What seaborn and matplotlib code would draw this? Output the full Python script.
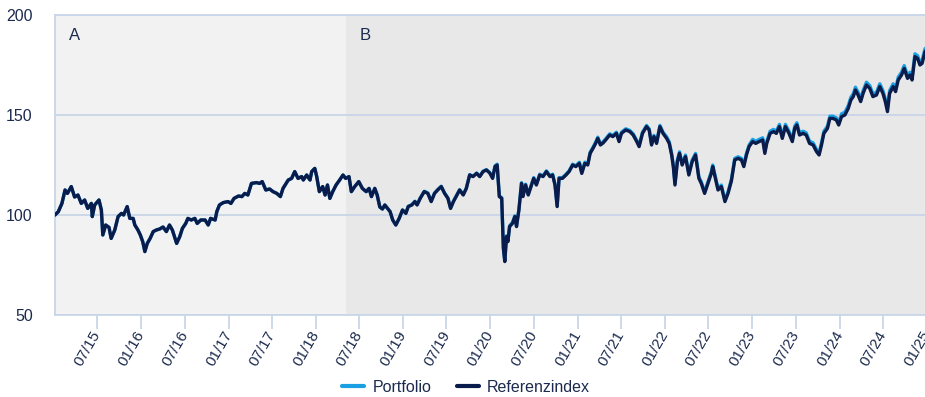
import matplotlib
matplotlib.use("Agg")
import matplotlib.pyplot as plt
import matplotlib.dates as mdates
from matplotlib.lines import Line2D
import pandas as pd
import seaborn as sns

# ---- data -----------------------------------------------------------------
dates = [
    "2015-01-05", "2015-01-19", "2015-02-03", "2015-02-16", "2015-02-26", "2015-03-14", "2015-03-28",
    "2015-04-11", "2015-04-25", "2015-05-09", "2015-05-22", "2015-06-06", "2015-06-10", "2015-06-20",
    "2015-07-08", "2015-07-18", "2015-07-24", "2015-08-05", "2015-08-19", "2015-08-28", "2015-09-12",
    "2015-09-26", "2015-10-10", "2015-10-19", "2015-11-03", "2015-11-14", "2015-11-28", "2015-12-05",
    "2015-12-18", "2015-12-28", "2016-01-07", "2016-01-16", "2016-01-26", "2016-02-07", "2016-02-20",
    "2016-03-04", "2016-03-18", "2016-04-01", "2016-04-15", "2016-04-28", "2016-05-10", "2016-05-19",
    "2016-05-28", "2016-06-10", "2016-06-21", "2016-07-05", "2016-07-14", "2016-07-28", "2016-08-12",
    "2016-08-22", "2016-09-06", "2016-09-24", "2016-10-07", "2016-10-17", "2016-11-05", "2016-11-12",
    "2016-11-23", "2016-12-09", "2016-12-29", "2017-01-10", "2017-01-23", "2017-02-11", "2017-02-25",
    "2017-03-09", "2017-03-22", "2017-04-06", "2017-04-27", "2017-05-10", "2017-05-21", "2017-06-05",
    "2017-06-21", "2017-07-05", "2017-07-21", "2017-08-05", "2017-08-16", "2017-09-07", "2017-09-21",
    "2017-10-04", "2017-10-18", "2017-11-02", "2017-11-09", "2017-11-23", "2017-12-07", "2017-12-14",
    "2017-12-27", "2018-01-04", "2018-01-15", "2018-01-29", "2018-02-08", "2018-02-18", "2018-02-28",
    "2018-03-12", "2018-03-26", "2018-04-10", "2018-04-24", "2018-05-05", "2018-05-19", "2018-05-29",
    "2018-06-12", "2018-06-29", "2018-07-14", "2018-07-30", "2018-08-11", "2018-08-21", "2018-09-04",
    "2018-09-14", "2018-09-25", "2018-10-06", "2018-10-16", "2018-11-07", "2018-11-18", "2018-12-01",
    "2018-12-15", "2018-12-29",
    "2019-01-12", "2019-01-22", "2019-02-06", "2019-02-19", "2019-02-28", "2019-03-13", "2019-03-30",
    "2019-04-14", "2019-04-28", "2019-05-12", "2019-05-25", "2019-06-09", "2019-06-23", "2019-07-07",
    "2019-07-18", "2019-07-30", "2019-08-14", "2019-08-25", "2019-09-09", "2019-09-22", "2019-10-06",
    "2019-10-20", "2019-11-04", "2019-11-17", "2019-12-01", "2019-12-15", "2019-12-29",
    "2020-01-10", "2020-01-20", "2020-01-29", "2020-02-07", "2020-02-17", "2020-02-24", "2020-03-01",
    "2020-03-08", "2020-03-14", "2020-03-21", "2020-04-02", "2020-04-12", "2020-04-19", "2020-04-29",
    "2020-05-10", "2020-05-16", "2020-05-27", "2020-06-07", "2020-06-21", "2020-06-30", "2020-07-11",
    "2020-07-25", "2020-08-08", "2020-08-22", "2020-09-06", "2020-09-17", "2020-09-27", "2020-10-06",
    "2020-10-14", "2020-10-28", "2020-11-12", "2020-11-25", "2020-12-10", "2020-12-23",
    "2021-01-07", "2021-01-17", "2021-01-30", "2021-02-11", "2021-02-21", "2021-03-05", "2021-03-16",
    "2021-03-25", "2021-04-05", "2021-04-16", "2021-04-27", "2021-05-14", "2021-05-27", "2021-06-11",
    "2021-06-22", "2021-07-02", "2021-07-20", "2021-08-06", "2021-08-20", "2021-09-04", "2021-09-14",
    "2021-09-28", "2021-10-15", "2021-10-26", "2021-11-05", "2021-11-15", "2021-11-26", "2021-12-10",
    "2021-12-23",
    "2022-01-07", "2022-01-18", "2022-01-28", "2022-02-04", "2022-02-11", "2022-02-21", "2022-03-02",
    "2022-03-13", "2022-03-27", "2022-04-10", "2022-04-24", "2022-05-08", "2022-05-22", "2022-06-01",
    "2022-06-15", "2022-06-29", "2022-07-13", "2022-07-19", "2022-08-10", "2022-08-24", "2022-09-08",
    "2022-09-21", "2022-10-05", "2022-10-19", "2022-11-02", "2022-11-16", "2022-11-26", "2022-12-07",
    "2022-12-18",
    "2023-01-02", "2023-01-15", "2023-01-29", "2023-02-13", "2023-02-22", "2023-03-02", "2023-03-16",
    "2023-03-30", "2023-04-11", "2023-04-24", "2023-05-06", "2023-05-19", "2023-06-03", "2023-06-17",
    "2023-06-27", "2023-07-06", "2023-07-17", "2023-08-01", "2023-08-14", "2023-08-28", "2023-09-12",
    "2023-09-26", "2023-10-07", "2023-10-17", "2023-10-27", "2023-11-11", "2023-11-21", "2023-12-04",
    "2023-12-18", "2023-12-28",
    "2024-01-09", "2024-01-23", "2024-02-06", "2024-02-17", "2024-02-27", "2024-03-07", "2024-03-18",
    "2024-03-29", "2024-04-08", "2024-04-22", "2024-05-06", "2024-05-19", "2024-06-03", "2024-06-17",
    "2024-06-30", "2024-07-10", "2024-07-19", "2024-07-28", "2024-08-12", "2024-08-22", "2024-09-02",
    "2024-09-16", "2024-09-27", "2024-10-11", "2024-10-21", "2024-10-30", "2024-11-11", "2024-11-22",
    "2024-12-02", "2024-12-11", "2024-12-23", "2025-01-05",
]

referenzindex = [
    100.0, 101.7, 105.8, 112.5, 110.8, 114.2, 109.0,
    110.0, 105.8, 107.5, 103.3, 105.8, 99.2, 105.0,
    107.5, 102.5, 90.0, 95.0, 93.8, 88.3, 92.5,
    99.2, 100.8, 100.0, 104.2, 98.3, 98.3, 95.0,
    92.5, 90.0, 86.7, 81.7, 85.8, 88.3, 91.7,
    92.5, 93.0, 94.0, 91.7, 95.0, 92.5, 89.2,
    85.8, 89.2, 93.3, 95.8, 98.3, 97.5, 98.3,
    95.8, 97.5, 97.5, 95.0, 98.3, 97.5, 101.7,
    105.0, 106.2, 106.7, 105.8, 108.3, 109.5, 109.2,
    110.8, 110.0, 115.8, 116.2, 115.8, 116.7, 112.5,
    113.0, 111.7, 110.8, 109.2, 113.3, 117.5, 118.3,
    121.7, 118.3, 119.2, 117.5, 120.0, 117.5, 121.7,
    123.3, 119.2, 111.7, 114.2, 110.0, 115.0, 108.3,
    111.7, 115.0, 117.5, 120.0, 118.3, 119.2, 111.7,
    114.2, 116.7, 113.3, 111.7, 113.3, 109.2, 113.3,
    110.0, 104.0, 103.0, 105.0, 101.7, 97.5, 95.0,
    98.3, 102.5,
    100.8, 104.2, 105.0, 106.7, 105.0, 108.3, 111.7,
    110.8, 106.7, 110.8, 112.5, 114.2, 110.8, 108.3,
    103.3, 106.7, 110.0, 112.5, 110.0, 113.3, 120.0,
    119.2, 120.8, 119.2, 121.7, 122.5, 121.0,
    118.3, 124.2, 125.0, 109.2, 108.3, 83.3, 76.7,
    89.2, 86.7, 94.2, 95.8, 99.2, 94.2, 102.5,
    115.8, 109.2, 115.0, 110.0, 115.0, 118.3, 115.0,
    120.0, 119.2, 121.7, 119.2, 120.0, 115.0, 104.2,
    118.3, 118.3, 120.0, 121.7, 125.0, 124.2,
    125.8, 120.8, 125.8, 125.0, 130.8, 133.3, 135.8,
    138.3, 135.0, 136.0, 137.5, 140.0, 139.2, 140.8,
    136.7, 140.8, 142.5, 141.7, 140.0, 136.7, 134.2,
    140.8, 144.2, 142.5, 135.0, 139.2, 135.8, 144.2,
    140.8,
    138.3, 135.8, 130.0, 124.2, 115.0, 126.7, 130.8,
    125.0, 129.2, 120.0, 126.7, 130.0, 118.3, 115.8,
    110.8, 115.8, 120.8, 124.2, 112.5, 114.2, 106.7,
    110.8, 117.0, 127.5, 128.3, 127.5, 124.2, 130.0,
    134.2,
    136.7, 135.8, 136.7, 137.5, 130.8, 135.8, 140.8,
    141.7, 140.8, 144.2, 138.3, 144.2, 140.8, 136.7,
    143.3, 145.0, 140.0, 140.8, 140.0, 135.8, 135.0,
    131.7, 130.0, 135.0, 140.8, 143.3, 148.3, 148.3,
    147.5, 145.0,
    149.2, 150.0, 153.3, 157.5, 159.2, 162.5, 160.0,
    156.7, 160.8, 165.0, 163.3, 159.2, 160.0, 164.2,
    160.8, 156.7, 151.7, 160.8, 164.2, 161.7, 167.5,
    170.0, 173.3, 168.3, 170.0, 167.5, 179.2, 178.3,
    175.0, 175.8, 181.7, 183.0,
]

portfolio = [
    100.0, 101.7, 105.8, 112.5, 110.8, 114.2, 109.0,
    110.0, 105.8, 107.5, 103.3, 105.8, 99.2, 105.0,
    107.5, 102.5, 90.0, 95.0, 93.8, 88.3, 92.5,
    99.2, 100.8, 100.0, 104.2, 98.3, 98.3, 95.0,
    92.5, 90.0, 86.7, 81.7, 85.8, 88.3, 91.7,
    92.5, 93.0, 94.0, 91.7, 95.0, 92.5, 89.2,
    85.8, 89.2, 93.3, 95.8, 98.3, 97.5, 98.3,
    95.8, 97.5, 97.5, 95.0, 98.3, 97.5, 101.7,
    105.0, 106.2, 106.7, 105.8, 108.3, 109.5, 109.2,
    110.8, 110.0, 115.8, 116.2, 115.8, 116.7, 112.5,
    113.0, 111.7, 110.8, 109.2, 113.3, 117.5, 118.3,
    121.7, 118.3, 119.2, 117.5, 120.0, 117.5, 121.7,
    123.3, 119.2, 111.7, 114.2, 110.0, 115.0, 108.3,
    111.7, 115.0, 117.5, 120.0, 118.3, 119.2, 111.7,
    114.2, 116.7, 113.3, 111.7, 113.3, 109.2, 113.3,
    110.0, 104.0, 103.0, 105.0, 101.7, 97.5, 95.0,
    98.3, 102.5,
    101.0, 104.4, 105.2, 106.9, 105.2, 108.5, 111.9,
    111.0, 106.9, 111.0, 112.7, 114.4, 111.0, 108.5,
    103.5, 106.9, 110.2, 112.7, 110.2, 113.5, 120.2,
    119.4, 121.0, 119.4, 121.9, 122.7, 121.2,
    118.7, 124.6, 125.4, 109.6, 108.7, 83.7, 77.1,
    89.6, 87.1, 94.6, 96.2, 99.6, 94.6, 102.9,
    116.2, 109.6, 115.4, 110.4, 115.4, 118.7, 115.4,
    120.4, 119.6, 122.1, 119.6, 120.4, 115.4, 104.6,
    118.7, 118.7, 120.4, 122.1, 125.4, 124.6,
    126.4, 121.4, 126.4, 125.6, 131.4, 133.9, 136.4,
    138.9, 135.6, 136.6, 138.1, 140.6, 139.8, 141.4,
    137.3, 141.4, 143.1, 142.3, 140.6, 137.3, 134.8,
    141.4, 144.8, 143.1, 135.6, 139.8, 136.4, 144.8,
    141.4,
    139.1, 136.6, 130.8, 125.0, 115.8, 127.5, 131.6,
    125.8, 130.0, 120.8, 127.5, 130.8, 119.1, 116.6,
    111.6, 116.6, 121.6, 125.0, 113.3, 115.0, 107.5,
    111.6, 117.8, 128.3, 129.1, 128.3, 125.0, 130.8,
    135.0,
    137.8, 136.9, 137.8, 138.6, 131.9, 136.9, 141.9,
    142.8, 141.9, 145.3, 139.4, 145.3, 141.9, 137.8,
    144.4, 146.1, 141.1, 141.9, 141.1, 136.9, 136.1,
    132.8, 131.1, 136.1, 141.9, 144.4, 149.4, 149.4,
    148.6, 146.1,
    150.6, 151.4, 154.7, 158.9, 160.6, 163.9, 161.4,
    158.1, 162.2, 166.4, 164.7, 160.6, 161.4, 165.6,
    162.2, 158.1, 153.1, 162.2, 165.6, 163.1, 168.9,
    171.4, 174.7, 169.7, 171.4, 168.9, 180.6, 179.7,
    176.4, 177.2, 183.1, 184.4,
]

series_names = ["Portfolio", "Referenzindex"]
phase_labels = ["A", "B"]
phase_starts = ["2015-01-05", "2018-05-07"]
axis_end = "2025-01-13"
tick_dates = pd.date_range("2015-07-01", "2025-01-01", freq="6MS")
y_ticks = [50, 100, 150, 200]

# ---- styling ----------------------------------------------------------------
PORTFOLIO_BLUE = "#1aa0e2"
INDEX_NAVY = "#0a1c4c"
TEXT_NAVY = "#1b2a4e"
GRID_BLUE = "#c9d5e8"
PHASE_FILLS = ["#f2f2f2", "#e8e8e8"]

sns.set_theme(style="white")
plt.rcParams["font.family"] = ["Liberation Sans", "DejaVu Sans"]

df = pd.DataFrame({
    "Datum": pd.to_datetime(dates),
    series_names[0]: portfolio,
    series_names[1]: referenzindex,
})

fig = plt.figure(figsize=(9.25, 3.97), dpi=100)
ax = fig.add_axes([55 / 925, 82 / 397, 875 / 925, 300 / 397])

# shaded phases with their letters
bounds = [pd.Timestamp(s) for s in phase_starts] + [pd.Timestamp(axis_end)]
for i, label in enumerate(phase_labels):
    ax.axvspan(bounds[i], bounds[i + 1], color=PHASE_FILLS[i], zorder=0, lw=0)
    ax.annotate(label, xy=(bounds[i], 1), xycoords=("data", "axes fraction"),
                xytext=(10, -15), textcoords="offset points",
                ha="left", va="center", fontsize=12, color=TEXT_NAVY)

# horizontal grid
ax.set_axisbelow(True)
ax.yaxis.grid(True, color=GRID_BLUE, linewidth=1.3)
ax.xaxis.grid(False)

sns.lineplot(data=df, x="Datum", y=series_names[0], color=PORTFOLIO_BLUE,
             linewidth=2.4, ax=ax, zorder=3)
sns.lineplot(data=df, x="Datum", y=series_names[1], color=INDEX_NAVY,
             linewidth=2.4, ax=ax, zorder=4)

ax.set_xlim(bounds[0], bounds[-1])
ax.set_ylim(y_ticks[0], y_ticks[-1])
ax.set_yticks(y_ticks)
ax.set_xticks(tick_dates)
ax.xaxis.set_major_formatter(mdates.DateFormatter("%m/%y"))
ax.set_xlabel("")
ax.set_ylabel("")

for side in ["left", "bottom", "top"]:
    ax.spines[side].set_visible(True)
    ax.spines[side].set_color(GRID_BLUE)
    ax.spines[side].set_linewidth(1.3)
ax.spines["right"].set_visible(False)

ax.tick_params(axis="y", length=0, pad=16, labelsize=11.5, labelcolor=TEXT_NAVY)
ax.tick_params(axis="x", length=10, width=1.3, color=GRID_BLUE, pad=2,
               labelsize=11, labelcolor=TEXT_NAVY, bottom=True)
for lbl in ax.get_xticklabels():
    lbl.set_rotation(60)
    lbl.set_ha("right")
    lbl.set_va("center")
    lbl.set_rotation_mode("anchor")

handles = [Line2D([], [], color=PORTFOLIO_BLUE, lw=3),
           Line2D([], [], color=INDEX_NAVY, lw=3)]
fig.legend(handles, series_names, loc="center", bbox_to_anchor=(466 / 925, 10 / 397),
           ncol=2, frameon=False, fontsize=11.5, handlelength=1.4, handletextpad=0.5,
           columnspacing=1.6, labelcolor=TEXT_NAVY)

fig.savefig("out.png", dpi=100)
